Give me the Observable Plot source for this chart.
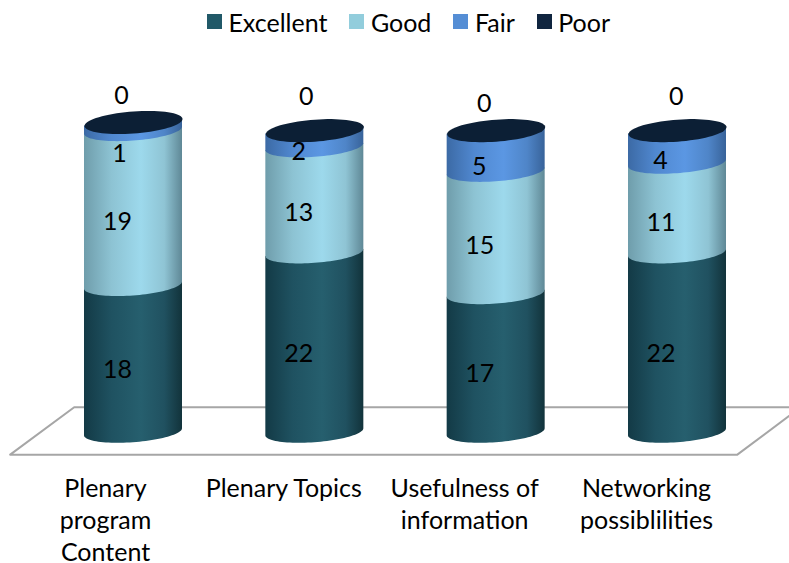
<!DOCTYPE html>
<html>
<head>
<meta charset="utf-8">
<script src="https://cdn.jsdelivr.net/npm/d3@7"></script>
<script src="https://cdn.jsdelivr.net/npm/@observablehq/plot@0.6"></script>
<style>
  html, body { margin: 0; padding: 0; background: #fff; overflow: hidden; }
  #legend { height: 44px; display: flex; justify-content: center; align-items: center;
            font: 25px Lato, sans-serif; color: #000; padding-left: 28px; padding-bottom: 1px; box-sizing: border-box; }
  #legend .item { display: flex; align-items: center; margin-right: 22px; }
  #legend .item:last-child { margin-right: 0; }
  #legend .sw { width: 15px; height: 15px; margin-right: 6.5px; }
  svg { display: block; }
</style>
</head>
<body>
<div id="legend"></div>
<div id="chart"></div>
<script>
const categories = ["Plenary\nprogram\nContent", "Plenary Topics", "Usefulness of\ninformation", "Networking\npossiblilities"];
const seriesNames = ["Excellent", "Good", "Fair", "Poor"];
const excellent = [18, 22, 17, 22];
const good = [19, 13, 15, 11];
const fair = [1, 2, 5, 4];
const poor = [0, 0, 0, 0];
const colors = ["#215968", "#92cddc", "#558ed5", "#10253f"];

// Layout constants (pixels, not data)
const legendH = 44;
const yRange = [431.8 - legendH, 122 - legendH];
const xRange = [133, 677];
const pxPerUnit = (yRange[0] - yRange[1]) / 38;
const pxPerCol = (xRange[1] - xRange[0]) / 3;
const rx = 49, ry = 10.4, discRy = 11, tilt = 3.5;
const halfWidth = rx / pxPerCol;

const shading = {
  Excellent: ["#133a46", "#1f5261", "#265f6e", "#205160", "#12333b"],
  Good: ["#6f9dab", "#8dc3d3", "#9dd9ec", "#8fc4d4", "#5f8896"],
  Fair: ["#3c6aa5", "#5088d0", "#5b97e3", "#4f85c8", "#38639a"]
};
const stopOffsets = ["0%", "28%", "58%", "82%", "100%"];

const values = [excellent, good, fair, poor];
const theta = d3.range(0, 49).map(i => Math.PI - i * Math.PI / 48);

const segments = [];
categories.forEach((c, col) => {
  let base = 0;
  seriesNames.forEach((name, si) => {
    const v = values[si][col];
    segments.push({col, name, si, value: v, base, top: base + v});
    base += v;
  });
});

function segmentOutline(s) {
  return theta.map(t => {
    const u = Math.cos(t);
    return {
      x: s.col + u * halfWidth,
      y1: s.base - (ry * Math.sin(t) - tilt * u) / pxPerUnit,
      y2: s.top + (tilt * u) / pxPerUnit
    };
  });
}

const discTop = {
  draw(ctx) {
    d3.range(0, 72).forEach(i => {
      const a = i * 2 * Math.PI / 72, u = Math.cos(a);
      const px = rx * u, py = discRy * Math.sin(a) - tilt * u;
      if (i === 0) ctx.moveTo(px, py); else ctx.lineTo(px, py);
    });
    ctx.closePath();
  }
};

// Hand-placed label offsets in the original, [dx, dy] in px by series then column
const labelOffsets = {
  Excellent: [[-16, 11.5], [-16, 11.5], [-16.5, 11], [-16.5, 11.5]],
  Good: [[-16, 13.5], [-16, 13], [-16.5, 13.5], [-16.5, 14.5]],
  Fair: [[-14, 27.5], [-16, 13.5], [-17, 15.5], [-17, 14]],
  Poor: [[-12, -26.5], [-8.6, -33.5], [-12, -26.5], [-1.3, -33.5]]
};
const categoryDx = [-28, -31, -31.5, -31];

const floorX = [-0.68, -0.327, 3.68, 3.33, -0.68];
const floorY = [-2.74, 3.07, 3.07, -2.74, -2.74];
const floorPts = floorX.map((x, i) => ({x, y: floorY[i]}));

const fontFamily = "Lato, sans-serif";

const marks = [
  Plot.line(floorPts, {x: "x", y: "y", stroke: "#a6a6a6", strokeWidth: 2}),
  ...segments.filter(s => s.value > 0).map(s =>
    Plot.areaY(segmentOutline(s), {x: "x", y1: "y1", y2: "y2", fill: `url(#grad-${s.name})`})
  ),
  ...categories.map((c, col) =>
    Plot.dot([{x: col, y: d3.sum(values, v => v[col])}], {
      x: "x", y: "y", symbol: discTop, fill: "#0c1f35", stroke: "none"
    })
  ),
  ...segments.map(s =>
    Plot.text([s], {
      x: "col", y: d => d.base + d.value / 2, text: d => String(d.value),
      dx: labelOffsets[s.name][s.col][0], dy: labelOffsets[s.name][s.col][1],
      fontSize: 25, fill: "#000", fontFamily
    })
  ),
  ...categories.map((c, col) =>
    Plot.text([c], {
      x: () => col, y: () => 0, text: d => d, dx: categoryDx[col], dy: 42,
      lineAnchor: "top", lineHeight: 1.28,
      fontSize: 25, fill: "#000", fontFamily
    })
  )
];

const chart = Plot.plot({
  width: 789,
  height: 563 - legendH,
  margin: 0,
  x: {type: "linear", domain: [0, 3], range: xRange, axis: null},
  y: {type: "linear", domain: [0, 38], range: yRange, axis: null},
  style: {background: "transparent", overflow: "hidden"},
  marks
});

const defs = d3.select(chart).insert("defs", ":first-child");
Object.entries(shading).forEach(([name, stops]) => {
  const g = defs.append("linearGradient").attr("id", `grad-${name}`)
    .attr("x1", 0).attr("x2", 1).attr("y1", 0).attr("y2", 0);
  stops.forEach((c, i) => g.append("stop").attr("offset", stopOffsets[i]).attr("stop-color", c));
});
document.getElementById("chart").appendChild(chart);

const legend = d3.select("#legend");
seriesNames.forEach((name, i) => {
  const item = legend.append("div").attr("class", "item");
  item.append("div").attr("class", "sw").style("background", colors[i]);
  item.append("span").text(name);
});
</script>
</body>
</html>
